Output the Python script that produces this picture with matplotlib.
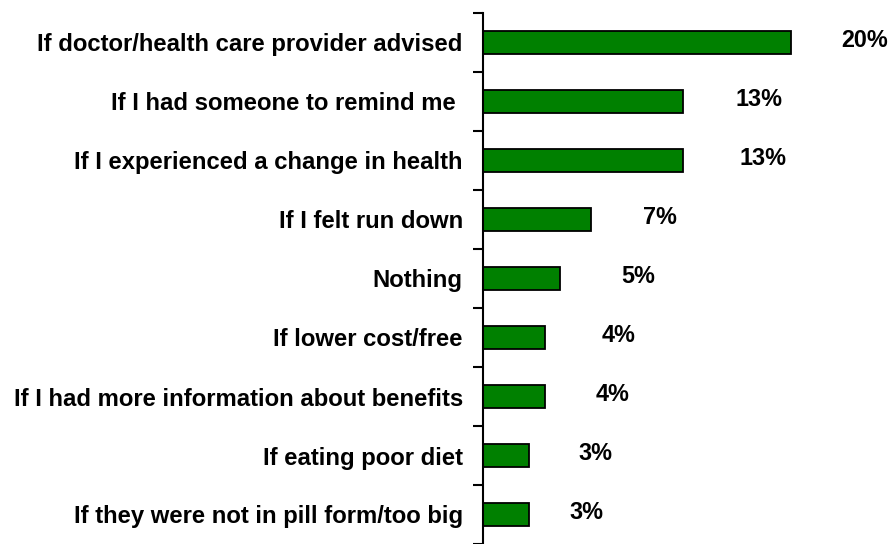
import matplotlib
matplotlib.use("Agg")
import matplotlib.pyplot as plt
import numpy as np

# Reasons that would prompt taking supplements (percent of respondents)
categories = [
    "If doctor/health care provider advised",
    "If I had someone to remind me ",
    "If I experienced a change in health",
    "If I felt run down",
    "Nothing",
    "If lower cost/free",
    "If I had more information about benefits",
    "If eating poor diet",
    "If they were not in pill form/too big",
]
values = [20, 13, 13, 7, 5, 4, 4, 3, 3]
value_labels = ["20%", "13%", "13%", "7%", "5%", "4%", "4%", "3%", "3%"]

# horizontal gap between bar end and its value label (data units)
label_gaps = [4.8, 4.9, 5.2, 4.5, 5.1, 4.8, 4.4, 4.3, 3.7]

plt.rcParams["font.family"] = ["Liberation Sans", "DejaVu Sans"]
plt.rcParams["font.weight"] = "bold"

fig = plt.figure(figsize=(8.92, 5.44), dpi=100)
ax = fig.add_axes([483 / 892, 0.0, 1 - 483 / 892, 531 / 544])

y = np.arange(len(categories))
ax.barh(y, values, height=0.4, color="#008000", edgecolor="black", linewidth=1.3)

for yi, v, lab, gap in zip(y, values, value_labels, label_gaps):
    ax.text(v + gap, yi - 0.03, lab, ha="center", va="center",
            fontsize=16.8, fontweight="bold", color="black")

ax.set_xlim(0, 409 / 15.4)
ax.set_ylim(len(categories) - 0.5, -0.5)

ax.set_yticks(y)
ax.set_yticklabels(categories, fontsize=17.2, fontweight="bold")
ax.tick_params(axis="y", which="major", length=0, pad=14.5)
ax.set_yticks(np.arange(len(categories) + 1) - 0.5, minor=True)
ax.tick_params(axis="y", which="minor", length=7, width=1.5, direction="out")

ax.set_xticks([])
for side in ("top", "right", "bottom"):
    ax.spines[side].set_visible(False)
ax.spines["left"].set_linewidth(1.5)

fig.savefig("out.png", dpi=100)
